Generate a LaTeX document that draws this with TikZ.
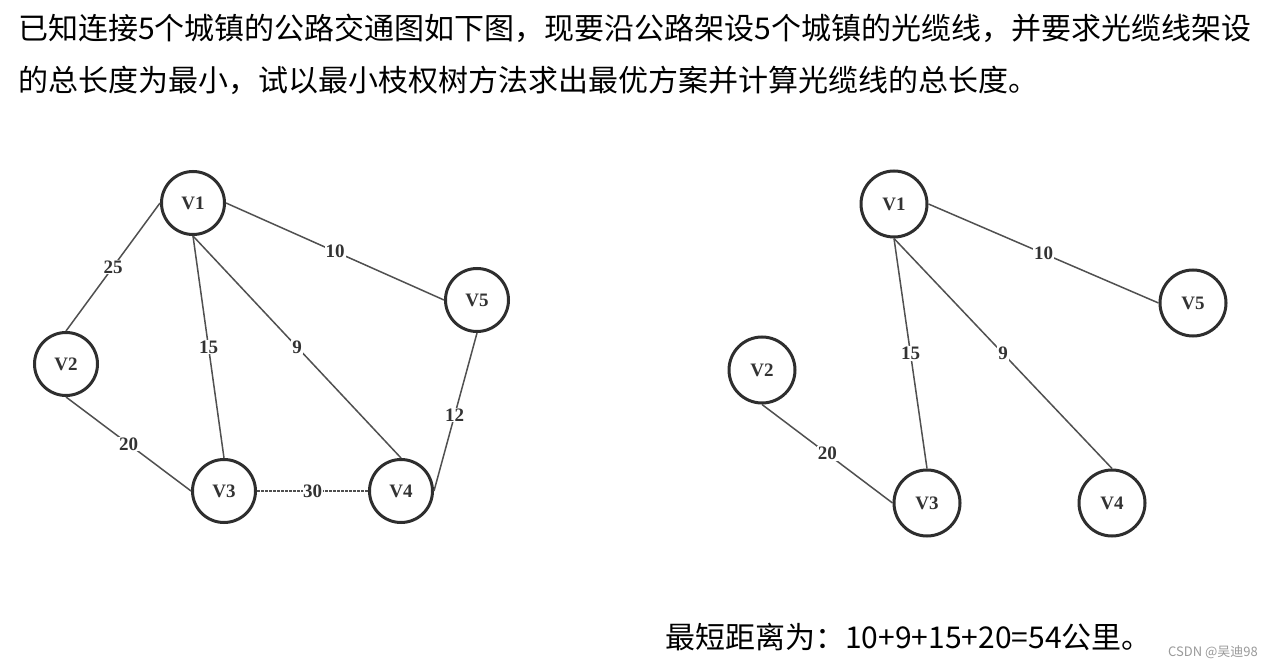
\documentclass[tikz,border=0pt]{standalone}
\usepackage{fontspec}
\setmainfont{Noto Sans CJK SC}
\newfontfamily\cjk{Noto Sans CJK SC}
\newfontfamily\vfont{Liberation Serif}
\definecolor{ringc}{HTML}{2E2E2E}
\definecolor{edgec}{HTML}{505050}
\definecolor{labc}{HTML}{333333}
\definecolor{wmc}{HTML}{9A9A9A}
\begin{document}
\begin{tikzpicture}[x=1pt,y=-1pt,
  town/.style={circle,draw=ringc,line width=3pt,fill=white,inner sep=0pt,font=\vfont\bfseries\fontsize{19}{19}\selectfont,text=labc},
  townL/.style={town,minimum size=63pt},
  townR/.style={town,minimum size=66pt},
  road/.style={draw=edgec,line width=1.5pt},
  wt/.style={fill=white,inner sep=1pt,font=\vfont\bfseries\fontsize{19}{19}\selectfont,text=labc},
  para/.style={anchor=base west,inner sep=0pt,font=\cjk\fontsize{30}{30}\selectfont}
]
\useasboundingbox[fill=white] (0,0) rectangle (1280,668);
% text
\node[para] (t1) at (18,40) {已知连接5个城镇的公路交通图如下图，现要沿公路架设5个城镇的光缆线，并要求光缆线架设};
\node[para] (t2) at (18,92) {的总长度为最小，试以最小枝权树方法求出最优方案并计算光缆线的总长度。};
\node[para] (res) at (665,648) {最短距离为：10+9+15+20=54公里。};
\node[anchor=base west,inner sep=0pt,font=\cjk\fontsize{13}{13}\selectfont,text=wmc] (wm) at (1168,656) {CSDN @吴迪98};
% left graph
\node[townL] (a1) at (193,203) {V1};
\node[townL] (a2) at (66,364) {V2};
\node[townL] (a3) at (224,491) {V3};
\node[townL] (a4) at (401,491) {V4};
\node[townL] (a5) at (477,300) {V5};
\path[road] (a1.west) -- node[wt] {25} (a2.north);
\path[road] (a1.east) -- node[wt] {10} (a5.west);
\path[road] (a1.south) -- node[wt] {15} (a3.north);
\path[road] (a1.south) -- node[wt] {9} (a4.north);
\path[road] (a5.south) -- node[wt,pos=0.52] {12} (a4.east);
\path[road] (a2.south) -- node[wt] {20} (a3.west);
\path[road,dash pattern=on 3pt off 1pt] (a3.east) -- node[wt,inner sep=0.5pt] {30} (a4.west);
% right graph
\node[townR] (b1) at (894,204) {V1};
\node[townR] (b2) at (762,370) {V2};
\node[townR] (b3) at (927,503) {V3};
\node[townR] (b4) at (1112,503) {V4};
\node[townR] (b5) at (1193,303) {V5};
\path[road] (b1.east) -- node[wt] {10} (b5.west);
\path[road] (b1.south) -- node[wt] {15} (b3.north);
\path[road] (b1.south) -- node[wt] {9} (b4.north);
\path[road] (b2.south) -- node[wt] {20} (b3.west);
\end{tikzpicture}
\end{document}
